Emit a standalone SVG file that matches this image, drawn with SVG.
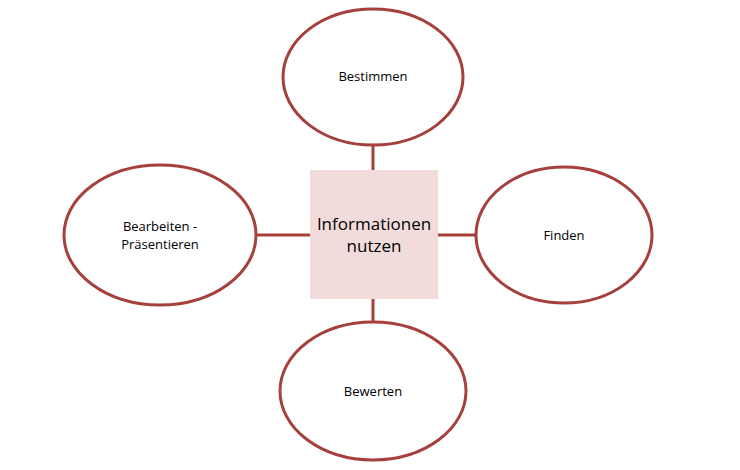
<svg xmlns="http://www.w3.org/2000/svg" width="740" height="470" viewBox="0 0 740 470">
<style>
.n{fill:#fff;stroke:#a5403d;stroke-width:3}
.c{stroke:#a5403d;stroke-width:3;fill:none}
text{font-family:"Open Sans","Liberation Sans",sans-serif;fill:#000;text-anchor:middle}
.s{font-size:13px}
.b{font-size:17px}
</style>
<rect width="740" height="470" fill="#fff"/>
<g id="connectors">
<line class="c" x1="373" y1="146" x2="373" y2="170"/>
<line class="c" x1="373" y1="299" x2="373" y2="322"/>
<line class="c" x1="255" y1="235" x2="310" y2="235"/>
<line class="c" x1="438" y1="235" x2="476" y2="235"/>
</g>
<g id="center"><rect x="310" y="170" width="128" height="129" fill="#f2dcdb"/>
<text class="b" x="374" y="230">Informationen</text><text class="b" x="374" y="252">nutzen</text></g>
<g id="bestimmen"><ellipse class="n" cx="373" cy="77" rx="90" ry="68"/><text class="s" x="373" y="81">Bestimmen</text></g>
<g id="finden"><ellipse class="n" cx="564" cy="235" rx="88" ry="68"/><text class="s" x="564" y="240">Finden</text></g>
<g id="bearbeiten"><ellipse class="n" cx="160" cy="235" rx="96" ry="70"/><text class="s" x="160" y="231">Bearbeiten -</text><text class="s" x="160" y="249">Präsentieren</text></g>
<g id="bewerten"><ellipse class="n" cx="373" cy="391" rx="93" ry="69"/><text class="s" x="373" y="396">Bewerten</text></g>
</svg>
